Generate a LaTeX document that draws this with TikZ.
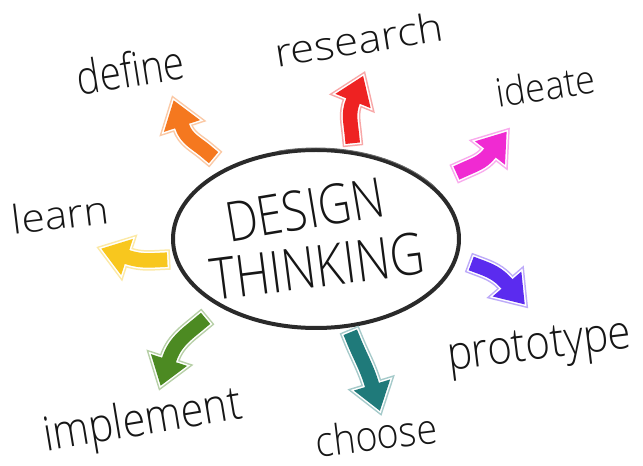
\documentclass[tikz,border=0pt]{standalone}
\usepackage{fontspec}
\setmainfont{Open Sans}[UprightFont=* Light]
\definecolor{ink}{HTML}{161616}
\definecolor{ringink}{HTML}{2A2A2A}
\definecolor{cOrange}{HTML}{F5781F}
\definecolor{cRed}{HTML}{EE2222}
\definecolor{cMagenta}{HTML}{F02AD2}
\definecolor{cBlue}{HTML}{5B2BEF}
\definecolor{cTeal}{HTML}{1F7A7A}
\definecolor{cGreen}{HTML}{4C8A22}
\definecolor{cYellow}{HTML}{F8C71E}
\newcommand{\hw}[3]{\resizebox{#1}{#2}{\vphantom{dl}#3}}
\newcommand{\cw}[3]{\resizebox{#1}{#2}{#3}}
% #1 colour, #2 name prefix, #3 out angle, #4 head direction
\newcommand{\bigarrow}[4]{%
  \pgfmathsetmacro\inang{#4+180}%
  \path (#2B) ++(#4:27pt) coordinate (#2tip)
        (#2B) ++(#4+90:19pt) coordinate (#2l)
        (#2B) ++(#4-90:19pt) coordinate (#2r);
  \draw[line width=20.5pt, line cap=rect, #1!40!white] (#2T) to[out=#3,in=\inang] (#2B);
  \filldraw[line width=6pt, line join=miter, #1!40!white] (#2tip) -- (#2l) -- (#2r) -- cycle;
  \draw[line width=17.5pt, line cap=rect, white] (#2T) to[out=#3,in=\inang] (#2B);
  \filldraw[line width=3pt, line join=miter, white] (#2tip) -- (#2l) -- (#2r) -- cycle;
  \draw[line width=14.5pt, line cap=rect, #1] (#2T) to[out=#3,in=\inang] (#2B);
  \fill[#1] (#2tip) -- (#2l) -- (#2r) -- cycle;
}
\tikzset{
  lab/.style={inner sep=0pt, anchor=base, text=ink},
}
\begin{document}
\begin{tikzpicture}[x=1pt,y=1pt]
\useasboundingbox (0,0) rectangle (643,466);
\fill[white] (0,0) rectangle (643,466);

% central ring
\draw[line width=4pt, ringink] (316,227) ellipse [x radius=143pt, y radius=89pt];
\draw[line width=0.9pt, ringink!70] (316,227) ++(105:145pt and 91pt) arc [start angle=105, end angle=35, x radius=145pt, y radius=91pt];

% title
\node[lab, rotate=9.5] (design) at (308,237) {\cw{160pt}{40pt}{DESIGN}};
\node[lab, rotate=7.3] (thinking) at (320,179) {\cw{215pt}{42pt}{THINKING}};

% labels
\node[lab, rotate=9] (define) at (133,379) {\hw{108pt}{36pt}{define}};
\node[lab, rotate=9] (research) at (361,412) {\hw{170pt}{30pt}{research}};
\node[lab, rotate=9] (ideate) at (548,366) {\hw{100pt}{30pt}{ideate}};
\node[lab, rotate=7] (learn) at (62,237) {\hw{97pt}{30pt}{learn}};
\node[lab, rotate=7] (prototype) at (541,107) {\hw{185pt}{36pt}{prototype}};
\node[lab, rotate=9.4] (implement) at (145,31) {\hw{200pt}{36pt}{implement}};
\node[lab, rotate=7] (choose) at (378,16) {\hw{122pt}{32pt}{choose}};

% arrow tails (T) and head bases (B)
\coordinate (defT) at (208,313);  \coordinate (defB) at (182,340);
\coordinate (resT) at (352,330);  \coordinate (resB) at (353,365);
\coordinate (ideT) at (463,296);  \coordinate (ideB) at (490,313);
\coordinate (proT) at (478,200);  \coordinate (proB) at (507,182);
\coordinate (choT) at (353,127);  \coordinate (choB) at (372,81);
\coordinate (impT) at (200,143);  \coordinate (impB) at (169,106);
\coordinate (leaT) at (160,206);  \coordinate (leaB) at (127,209);

\bigarrow{cOrange}{def}{138}{108}
\bigarrow{cRed}{res}{95}{68}
\bigarrow{cMagenta}{ide}{25}{52}
\bigarrow{cBlue}{pro}{-20}{-49}
\bigarrow{cTeal}{cho}{-68}{-73}
\bigarrow{cGreen}{imp}{-140}{-108}
\bigarrow{cYellow}{lea}{183}{162}
\end{tikzpicture}
\end{document}
